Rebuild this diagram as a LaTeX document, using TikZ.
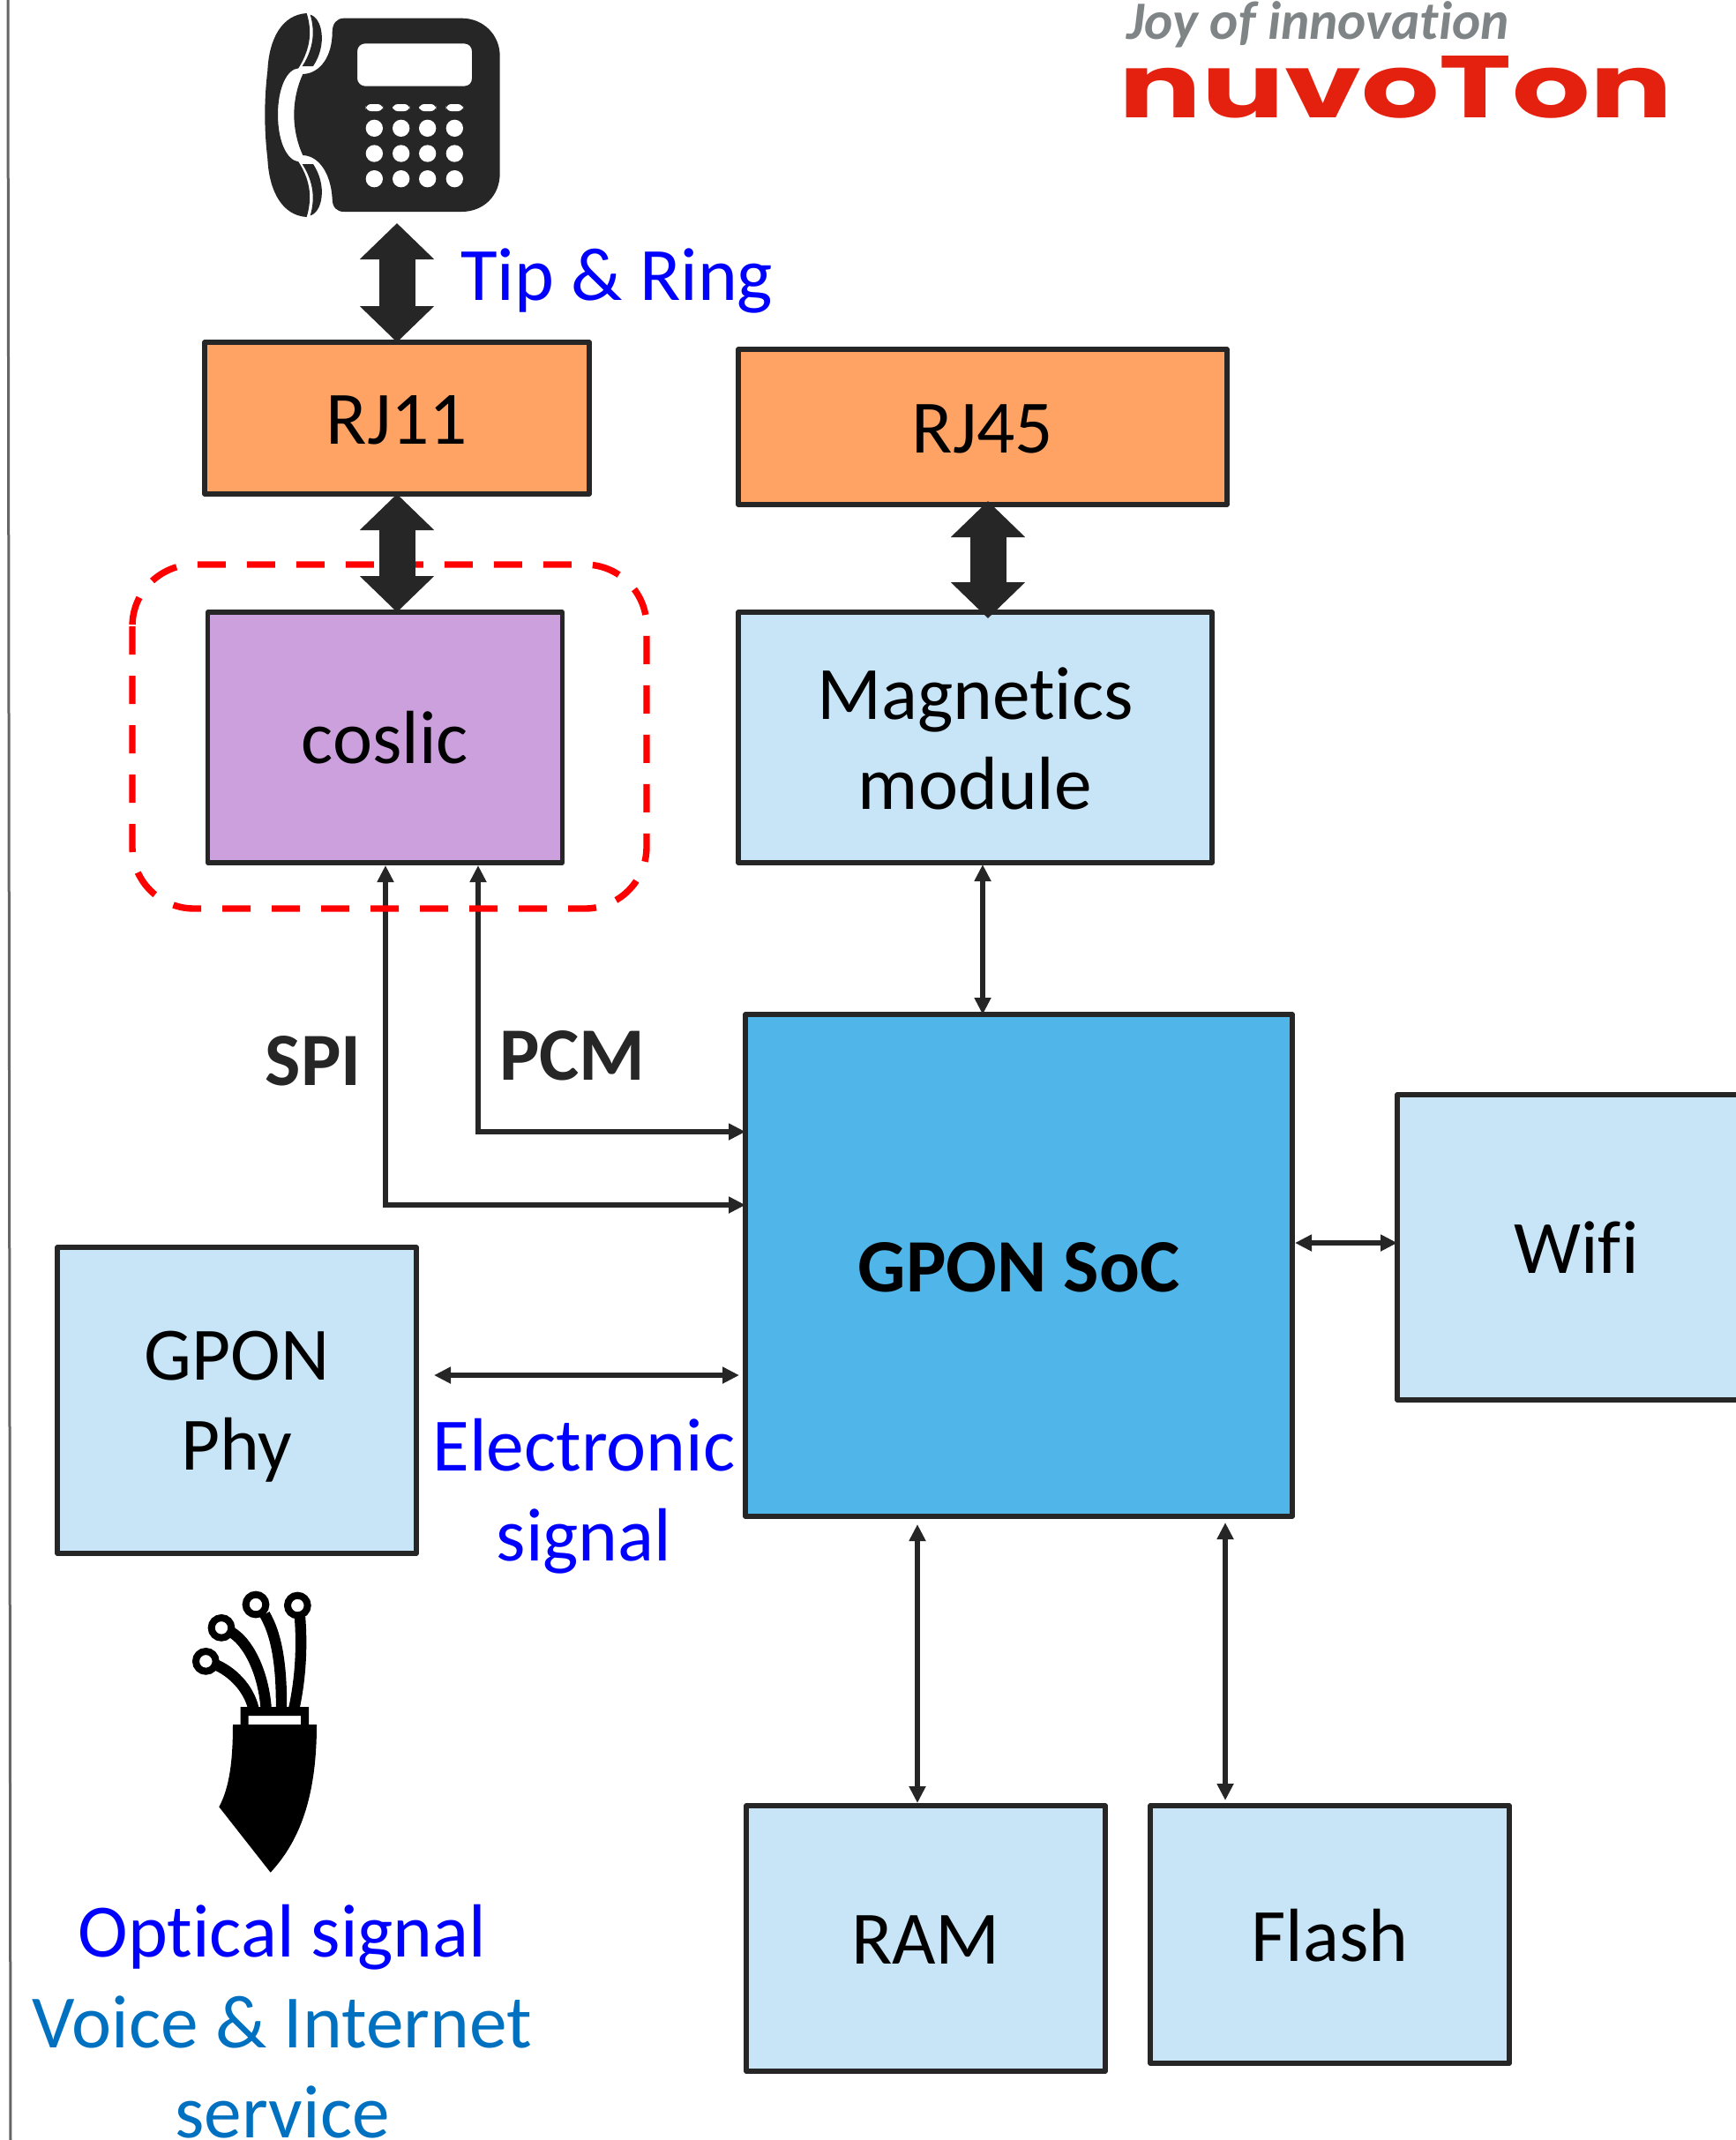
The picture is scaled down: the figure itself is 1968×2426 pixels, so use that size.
\documentclass[tikz,border=0pt]{standalone}
\usepackage{fontspec}
\usepackage{graphicx}
\setmainfont{Carlito}[Ligatures=NoCommon]
\newfontfamily\logofont{Poppins}
\usetikzlibrary{arrows.meta,calc}
\definecolor{ink}{HTML}{262626}
\definecolor{orangebox}{HTML}{FFA365}
\definecolor{lightblue}{HTML}{C7E5F7}
\definecolor{socblue}{HTML}{50B5E8}
\definecolor{purplebox}{HTML}{CCA0DC}
\definecolor{logored}{HTML}{E4200F}
\definecolor{logogray}{HTML}{7F8486}
\definecolor{bluetwo}{HTML}{0070C0}
\newcommand\lowered[2]{\raisebox{-#1}[\height][\depth]{#2}}
\tikzset{
  box/.style={draw=ink,line width=2.7pt,inner sep=0pt,outer sep=0pt,text=black,font=\fontsize{42.7}{51}\selectfont,align=center,line join=round},
  bluetext/.style={text=blue,inner sep=0pt,font=\fontsize{42.7}{51}\selectfont,align=center},
  darklabel/.style={text=ink,inner sep=0pt,font=\fontsize{42.7}{51}\selectfont\bfseries},
  thinarrow/.style={draw=ink,line width=3pt,{Triangle[length=9.5pt,width=9pt]}-{Triangle[length=9.5pt,width=9pt]}},
  bigarrow/.style={draw=ink,line width=20.5pt,{Triangle[length=20.5pt,width=41pt]}-{Triangle[length=20.5pt,width=41pt]}},
}
\begin{document}
\begin{tikzpicture}[x=0.5pt,y=-0.5pt]
\clip (0,0) rectangle (1968,2426);
\useasboundingbox (0,0) rectangle (1968,2426);
\draw[color=gray!80!black,line width=1.5pt] (9,0) -- (12,2426);

% boxes
\node[box,fill=orangebox,minimum width=218pt,minimum height=86pt] (rj11) at (450,474) {\lowered{1.3pt}{RJ11}};
\node[box,fill=orangebox,minimum width=277pt,minimum height=88pt] (rj45) at (1114,484) {\lowered{1.3pt}{RJ45}};
\node[box,fill=purplebox,minimum width=201pt,minimum height=142pt] (coslic) at (436.5,836) {coslic};
\node[box,fill=lightblue,minimum width=268.5pt,minimum height=142pt] (mag) at (1105.5,836) {\lowered{.7pt}{Magnetics}\\\lowered{.7pt}{module}};
\node[box,fill=socblue,minimum width=310pt,minimum height=284.5pt,font=\fontsize{42.7}{51}\selectfont\bfseries] (soc) at (1155,1434.5) {\lowered{1.3pt}{GPON SoC}};
\node[box,fill=lightblue,minimum width=203pt,minimum height=173pt] (wifi) at (1787,1414) {Wifi};
\node[box,fill=lightblue,minimum width=203.5pt,minimum height=173.5pt] (phy) at (268.5,1587.5) {\lowered{3.4pt}{GPON}\\\lowered{3.4pt}{Phy}};
\node[box,fill=lightblue,minimum width=203.5pt,minimum height=150.5pt] (ram) at (1049.5,2197.5) {\lowered{1pt}{RAM}};
\node[box,fill=lightblue,minimum width=203.5pt,minimum height=146pt] (flash) at (1507.5,2193) {\lowered{.7pt}{Flash}};

% telephone icon
\begin{scope}[shift={(250,0)},x=0.16667pt,y=-0.16667pt]
\fill[ink,even odd rule]
 (380,110) .. controls (380,80) and (395,62) .. (420,62) -- (820,62) .. controls (895,62) and (950,120) .. (950,190) -- (950,590) .. controls (950,665) and (895,720) .. (820,720) -- (420,720) .. controls (395,720) and (380,705) .. (380,675)
 .. controls (375,590) and (335,530) .. (280,528) .. controls (262,490) and (250,440) .. (250,390) .. controls (250,340) and (262,290) .. (280,252) .. controls (340,250) and (380,190) .. (380,110) -- cycle
 (465,175) .. controls (465,158) and (478,148) .. (492,148) -- (828,148) .. controls (845,148) and (855,160) .. (855,175) -- (855,266) .. controls (855,282) and (845,293) .. (828,293) -- (492,293) .. controls (478,293) and (465,282) .. (465,266) -- cycle;
\fill[ink] (293,45) .. controls (210,50) and (165,130) .. (160,240) .. controls (148,340) and (148,440) .. (160,540) .. controls (165,650) and (210,733) .. (293,738) .. controls (310,680) and (310,620) .. (265,550) .. controls (225,545) and (195,480) .. (195,390) .. controls (195,300) and (225,235) .. (265,232) .. controls (310,160) and (310,100) .. (293,45) -- cycle;
\fill[ink] (305,50) .. controls (345,60) and (365,150) .. (315,225) -- (278,225) .. controls (320,160) and (320,100) .. (305,50) -- cycle;
\fill[ink] (305,733) .. controls (345,723) and (365,633) .. (315,558) -- (278,558) .. controls (320,623) and (320,683) .. (305,733) -- cycle;
\foreach \kx in {523,614,704,796}{
  \fill[white,rounded corners=3pt] (\kx-29,354) rectangle (\kx+29,378);
  \foreach \ky in {436,522,608}{\fill[white] (\kx,\ky) circle [radius=29];}
}
\end{scope}
\coordinate (phonept) at (450,253);

% fibre icon
\begin{scope}[shift={(180,1770)},x=0.16667pt,y=-0.16667pt]
\draw[black,line width=6.2pt] (190,350) .. controls (250,375) and (305,430) .. (322,500);
\draw[black,line width=6.2pt] (245,240) .. controls (300,270) and (355,370) .. (365,500);
\draw[black,line width=6.2pt] (360,180) .. controls (395,240) and (418,330) .. (417,500);
\draw[black,line width=6.2pt] (480,190) .. controls (488,290) and (482,400) .. (460,500);
\foreach \cx/\cy in {160/340,213/226,330/147,472/150}{
  \draw[black,line width=4pt,fill=white] (\cx,\cy) circle [radius=34];
}
\fill[black,even odd rule] (278,495) rectangle (510,560) (305,525) rectangle (483,555);
\fill[black] (252,555) -- (537,555) .. controls (537,800) and (480,950) .. (380,1058) -- (205,835) .. controls (240,770) and (252,680) .. (252,555) -- cycle;
\end{scope}

% logo
\node[inner sep=0pt,text=logogray,anchor=base,font=\fontsize{30.6}{34}\selectfont\bfseries\itshape] (joy) at (1494,44) {Joy of innovation};
\node[inner sep=0pt,text=logored,anchor=base west] (nuvo) at (1268,133) {\resizebox{314pt}{35pt}{\logofont\bfseries nuvoTon}};

% thin connectors
\coordinate (spic) at (437,981);
\coordinate (pcmc) at (542,981);
\draw[thinarrow] (spic) -- (437,1366) -- (soc.west |- 437,1366);
\draw[thinarrow] (pcmc) -- (542,1283) -- (soc.west |- 542,1283);
\draw[thinarrow] (1114,980) -- (1114,1150);
\draw[thinarrow] (1468,1409) -- (wifi.west |- 1468,1409);
\coordinate (elecl) at (492,1559);
\coordinate (elecr) at (838,1559);
\draw[thinarrow] (elecl) -- (elecr);
\draw[thinarrow] (1040,1728) -- (1040,2044);
\draw[thinarrow] (1389,1726) -- (1389,2041);

% dashed group
\draw[red,line width=3.7pt,dash pattern=on 16pt off 12pt,rounded corners=35pt] (150,640) rectangle (733,1030);

% big arrows
\draw[bigarrow] (phonept) -- (rj11.north);
\draw[bigarrow] (rj11.south) -- (rj11.south |- coslic.north);
\coordinate (rjb) at (1120,568);
\coordinate (magt) at (1120,701);
\draw[bigarrow] (rjb) -- (magt);

% labels
\node[bluetext,anchor=west] (tip) at (522,318) {Tip \& Ring};
\node[bluetext] (elec) at (662,1696) {Electronic\\signal};
\node[bluetext] (opt) at (320,2196) {Optical signal};
\node[bluetext,text=bluetwo] (voice) at (320,2343) {Voice \& Internet\\service};
\node[darklabel] (spi) at (355,1203) {SPI};
\node[darklabel] (pcm) at (649,1197) {PCM};
\end{tikzpicture}
\end{document}
